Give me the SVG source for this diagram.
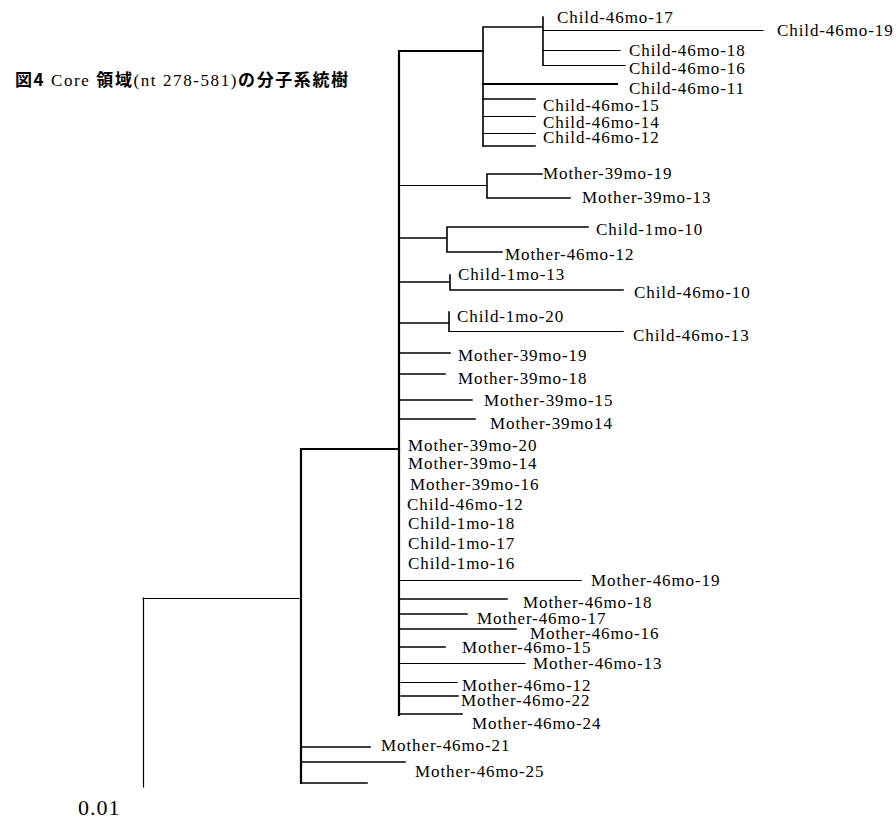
<svg xmlns="http://www.w3.org/2000/svg" width="896" height="825" viewBox="0 0 896 825">
<style>
.e{stroke:#000;stroke-width:1.6;fill:none;stroke-linecap:square}
.t{stroke-width:1.2}
.k{stroke-width:2.2}
.l{font-family:"Liberation Serif","Times New Roman",serif;font-size:17px;letter-spacing:0.9px;fill:#000}
.g{font-family:"Noto Sans CJK JP","Noto Sans CJK SC",sans-serif;font-weight:bold}
.s{font-family:"Liberation Serif",serif}
</style>
<rect width="896" height="825" fill="#fff"/>
<text id="title" x="15" y="86" font-size="17" textLength="333" lengthAdjust="spacing" fill="#000"><tspan class="g">図4</tspan><tspan class="s"> Core </tspan><tspan class="g">領域</tspan><tspan class="s">(nt 278-581)</tspan><tspan class="g">の分子系統樹</tspan></text>
<g id="connectors">
<path class="e k" d="M399 51V715M399 51H483"/>
<path class="e" d="M483 27V146M483 27H543M543 17V65"/>
<path class="e t" d="M543 30.5H763M543 50.5H620M543 65.5H625"/>
<path class="e k" d="M483 84H617"/>
<path class="e" d="M483 99H535M483 146H535"/>
<path class="e t" d="M483 116.5H535M483 133.5H535"/>
<path class="e t" d="M399 185.5H487"/>
<path class="e" d="M487 174V198M487 174H542M487 198H570"/>
<path class="e" d="M399 238H447M447 227V252M447 227H588M447 252H502"/>
<path class="e" d="M399 282H450M450 275V290M450 290H623"/>
<path class="e" d="M399 323H449M449 312V331"/>
<path class="e t" d="M449 331.5H623"/>
<path class="e" d="M399 353H450M399 374H445M399 400H472M399 419H475"/>
<path class="e t" d="M399 580.5H581M399 663.5H525M401 682.5H457"/>
<path class="e" d="M399 599H507M399 614H467M399 629H516M399 647H445M401 696H458M399 714H462"/>
<path class="e k" d="M301 449H399M301 449V783"/>
<path class="e" d="M301 747H370M301 762H405M301 783H367"/>
<path class="e t" d="M143 598.5H299M143.5 598V787"/>
</g>
<g id="n-c46-17"><text class="l" x="557" y="23">Child-46mo-17</text></g>
<g id="n-c46-19"><text class="l" x="777" y="36">Child-46mo-19</text></g>
<g id="n-c46-18"><text class="l" x="629" y="56">Child-46mo-18</text></g>
<g id="n-c46-16"><text class="l" x="629" y="74">Child-46mo-16</text></g>
<g id="n-c46-11"><text class="l" x="629" y="94">Child-46mo-11</text></g>
<g id="n-c46-15"><text class="l" x="543" y="111">Child-46mo-15</text></g>
<g id="n-c46-14"><text class="l" x="543" y="128">Child-46mo-14</text></g>
<g id="n-c46-12a"><text class="l" x="543" y="143">Child-46mo-12</text></g>
<g id="n-m39-19a"><text class="l" x="543" y="179">Mother-39mo-19</text></g>
<g id="n-m39-13"><text class="l" x="582" y="203">Mother-39mo-13</text></g>
<g id="n-c1-10"><text class="l" x="596" y="235">Child-1mo-10</text></g>
<g id="n-m46-12a"><text class="l" x="505" y="260">Mother-46mo-12</text></g>
<g id="n-c1-13"><text class="l" x="458" y="280">Child-1mo-13</text></g>
<g id="n-c46-10"><text class="l" x="634" y="298">Child-46mo-10</text></g>
<g id="n-c1-20"><text class="l" x="457" y="322">Child-1mo-20</text></g>
<g id="n-c46-13"><text class="l" x="633" y="341">Child-46mo-13</text></g>
<g id="n-m39-19b"><text class="l" x="458" y="361">Mother-39mo-19</text></g>
<g id="n-m39-18"><text class="l" x="458" y="384">Mother-39mo-18</text></g>
<g id="n-m39-15"><text class="l" x="484" y="406">Mother-39mo-15</text></g>
<g id="n-m39-14a"><text class="l" x="490" y="429">Mother-39mo14</text></g>
<g id="n-m39-20"><text class="l" x="408" y="451">Mother-39mo-20</text></g>
<g id="n-m39-14b"><text class="l" x="408" y="469">Mother-39mo-14</text></g>
<g id="n-m39-16"><text class="l" x="410" y="490">Mother-39mo-16</text></g>
<g id="n-c46-12b"><text class="l" x="407" y="510">Child-46mo-12</text></g>
<g id="n-c1-18"><text class="l" x="408" y="529">Child-1mo-18</text></g>
<g id="n-c1-17"><text class="l" x="408" y="549">Child-1mo-17</text></g>
<g id="n-c1-16"><text class="l" x="408" y="569">Child-1mo-16</text></g>
<g id="n-m46-19"><text class="l" x="591" y="586">Mother-46mo-19</text></g>
<g id="n-m46-18"><text class="l" x="523" y="608">Mother-46mo-18</text></g>
<g id="n-m46-17"><text class="l" x="477" y="624">Mother-46mo-17</text></g>
<g id="n-m46-16"><text class="l" x="530" y="639">Mother-46mo-16</text></g>
<g id="n-m46-15"><text class="l" x="462" y="653">Mother-46mo-15</text></g>
<g id="n-m46-13"><text class="l" x="533" y="669">Mother-46mo-13</text></g>
<g id="n-m46-12b"><text class="l" x="462" y="691">Mother-46mo-12</text></g>
<g id="n-m46-22"><text class="l" x="461" y="706">Mother-46mo-22</text></g>
<g id="n-m46-24"><text class="l" x="472" y="729">Mother-46mo-24</text></g>
<g id="n-m46-21"><text class="l" x="381" y="751">Mother-46mo-21</text></g>
<g id="n-m46-25"><text class="l" x="415" y="777">Mother-46mo-25</text></g>
<g id="scale"><text x="78" y="815" font-family="Liberation Serif, serif" font-size="22" letter-spacing="1" fill="#000">0.01</text></g>
</svg>
